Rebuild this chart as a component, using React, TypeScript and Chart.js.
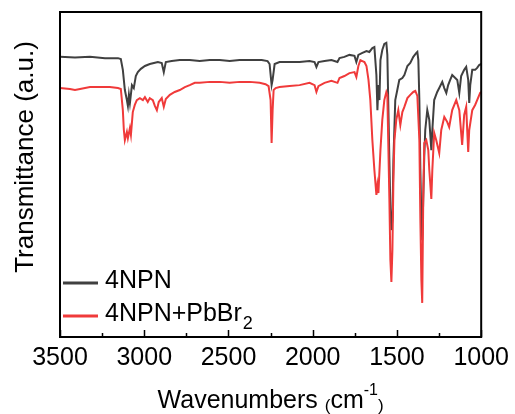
import React, { useEffect, useRef } from "react";
import { Chart, registerables } from "chart.js";

Chart.register(...registerables);

// ---- data (wavenumber cm^-1, transmittance a.u.) ----
const SERIES_NAMES = ["4NPN", "4NPN+PbBr"];
const SERIES_SUBSCRIPTS = ["", "2"];
const SERIES_COLORS = ["#404040", "#f03a3a"];

const NPN: [number, number][] = [
  [3500, 86.2], [3411, 86.0], [3322, 86.2], [3233, 85.8], [3156, 85.8], [3139, 85.5], [3127, 82.2],
  [3115, 76.0], [3103, 72.9], [3097, 71.1], [3091, 74.5], [3085, 72.0], [3073, 77.5], [3062, 76.6],
  [3050, 80.3], [3038, 81.5], [3020, 82.5], [2996, 83.4], [2967, 84.0], [2919, 84.6], [2896, 84.3],
  [2884, 81.5], [2872, 84.6], [2837, 84.9], [2789, 85.2], [2730, 85.2], [2671, 84.9], [2611, 85.2],
  [2552, 85.2], [2493, 84.9], [2434, 85.2], [2374, 85.2], [2303, 85.2], [2268, 84.9], [2256, 84.0],
  [2244, 77.5], [2238, 79.1], [2226, 84.0], [2197, 84.6], [2137, 84.6], [2078, 84.6], [2019, 84.9],
  [1989, 84.6], [1978, 83.1], [1966, 84.6], [1930, 84.9], [1889, 85.2], [1853, 84.6], [1841, 85.8],
  [1812, 86.2], [1782, 86.8], [1752, 86.5], [1741, 84.6], [1729, 86.8], [1705, 87.4], [1681, 88.0],
  [1664, 87.7], [1646, 88.9], [1634, 89.2], [1622, 80.6], [1616, 69.8], [1610, 77.5], [1604, 72.9],
  [1598, 85.2], [1587, 88.3], [1575, 90.2], [1563, 90.5], [1557, 86.8], [1545, 54.5], [1539, 39.4],
  [1533, 32.9], [1527, 36.0], [1521, 54.5], [1510, 72.9], [1498, 76.0], [1486, 79.1], [1468, 79.7],
  [1456, 80.6], [1438, 83.4], [1421, 84.3], [1403, 86.2], [1385, 87.4], [1379, 87.7], [1373, 85.2],
  [1367, 72.9], [1361, 51.4], [1355, 36.0], [1350, 29.8], [1344, 42.5], [1338, 55.4], [1332, 63.7],
  [1320, 69.8], [1308, 66.8], [1296, 57.5], [1290, 63.7], [1279, 72.9], [1261, 75.4], [1249, 76.6],
  [1231, 78.5], [1219, 76.6], [1207, 75.1], [1196, 77.5], [1184, 79.1], [1172, 80.6], [1154, 79.7],
  [1142, 79.1], [1130, 75.1], [1119, 80.3], [1101, 82.2], [1089, 83.1], [1077, 79.1], [1071, 72.0],
  [1065, 77.5], [1053, 82.2], [1036, 82.2], [1024, 82.8], [1012, 83.7], [1000, 84.0],
];

const NPN_PBBR2: [number, number][] = [
  [3500, 76.6], [3441, 76.3], [3411, 76.0], [3381, 76.3], [3322, 76.9], [3263, 76.9], [3204, 76.9],
  [3156, 76.6], [3139, 76.3], [3127, 69.8], [3121, 63.7], [3115, 60.6], [3103, 63.1], [3097, 61.2],
  [3085, 64.3], [3079, 62.2], [3068, 69.2], [3056, 71.4], [3044, 72.9], [3026, 73.5], [3008, 72.9],
  [2996, 73.8], [2979, 72.3], [2967, 73.5], [2949, 72.9], [2937, 71.1], [2925, 69.8], [2914, 72.3],
  [2896, 73.5], [2884, 70.8], [2872, 73.2], [2848, 74.5], [2819, 75.4], [2789, 76.0], [2759, 76.9],
  [2730, 77.5], [2700, 78.2], [2671, 78.2], [2611, 78.5], [2552, 78.5], [2493, 78.2], [2434, 78.5],
  [2374, 78.5], [2315, 78.2], [2280, 77.8], [2262, 77.2], [2250, 72.9], [2244, 59.7], [2238, 69.8],
  [2232, 76.0], [2220, 76.6], [2197, 76.9], [2137, 77.2], [2078, 77.5], [2019, 78.2], [1989, 77.5],
  [1978, 75.4], [1966, 77.2], [1930, 78.2], [1889, 78.8], [1853, 78.2], [1841, 79.7], [1812, 80.3],
  [1782, 81.2], [1752, 81.5], [1741, 80.0], [1729, 83.4], [1717, 85.2], [1705, 84.9], [1693, 84.6],
  [1681, 83.4], [1669, 79.1], [1658, 72.9], [1646, 60.6], [1634, 51.4], [1622, 43.7], [1616, 46.8],
  [1610, 44.3], [1598, 57.5], [1587, 66.8], [1575, 72.9], [1563, 75.4], [1557, 74.5], [1545, 42.5],
  [1539, 23.7], [1533, 16.9], [1527, 26.8], [1521, 48.3], [1515, 60.6], [1504, 66.8], [1492, 69.8],
  [1480, 65.2], [1468, 69.2], [1456, 70.8], [1438, 73.5], [1421, 74.5], [1403, 75.4], [1391, 75.7],
  [1379, 74.2], [1367, 60.6], [1361, 36.0], [1355, 17.5], [1350, 10.5], [1344, 42.5], [1338, 59.7],
  [1326, 60.6], [1314, 57.5], [1308, 51.4], [1296, 42.5], [1290, 51.4], [1279, 62.8], [1267, 60.6],
  [1249, 56.6], [1237, 63.7], [1219, 67.7], [1202, 66.2], [1190, 64.6], [1172, 69.8], [1148, 72.9],
  [1130, 69.8], [1113, 59.1], [1101, 68.3], [1089, 70.8], [1083, 63.7], [1077, 56.9], [1071, 63.7],
  [1053, 69.8], [1036, 71.4], [1024, 72.9], [1006, 75.1], [1000, 75.4],
];

const X_MIN = 1000;
const X_MAX = 3500;
const MAJOR_TICKS = [3500, 3000, 2500, 2000, 1500, 1000];
const MINOR_TICKS = [3250, 2750, 2250, 1750, 1250];
const Y_TITLE = "Transmittance (a.u.)";

const FONT = '"Liberation Sans", Arial, sans-serif';

const decorPlugin = {
  id: "decor",
  afterDraw(chart: any) {
    const { ctx, chartArea } = chart;
    const { left, right, top, bottom } = chartArea;
    const xs = chart.scales.x;
    ctx.save();
    // frame
    ctx.strokeStyle = "#000";
    ctx.lineWidth = 2;
    ctx.strokeRect(left, top, right - left, bottom - top);
    // inward ticks
    ctx.lineWidth = 1.5;
    ctx.beginPath();
    MAJOR_TICKS.forEach((v) => {
      const x = Math.round(xs.getPixelForValue(v)) + 0.5;
      ctx.moveTo(x, bottom);
      ctx.lineTo(x, bottom - 7);
    });
    MINOR_TICKS.forEach((v) => {
      const x = Math.round(xs.getPixelForValue(v)) + 0.5;
      ctx.moveTo(x, bottom);
      ctx.lineTo(x, bottom - 4);
    });
    ctx.stroke();

    ctx.fillStyle = "#000";
    // y title
    ctx.save();
    ctx.translate(33, 157);
    ctx.rotate(-Math.PI / 2);
    ctx.font = `26px ${FONT}`;
    ctx.textAlign = "center";
    ctx.textBaseline = "alphabetic";
    ctx.fillText(Y_TITLE, 0, 0);
    ctx.restore();

    // x title with superscript
    const segs: [string, number, number][] = [
      ["Wavenumbers ", 25, 0],
      ["(", 17, 3],
      ["cm", 25, 0],
      ["-1", 16, -13],
      [")", 17, 3],
    ];
    ctx.textAlign = "left";
    ctx.textBaseline = "alphabetic";
    let total = 0;
    segs.forEach(([t, s]) => {
      ctx.font = `${s}px ${FONT}`;
      total += ctx.measureText(t).width;
    });
    let cx = (left + right) / 2 - total / 2;
    const base = 408;
    segs.forEach(([t, s, dy]) => {
      ctx.font = `${s}px ${FONT}`;
      ctx.fillText(t, cx, base + dy);
      cx += ctx.measureText(t).width;
    });

    // legend
    const rows = [283, 316];
    chart.data.datasets.forEach((ds: any, i: number) => {
      const idx = ds.legendIndex;
      const y = rows[idx];
      ctx.strokeStyle = ds.borderColor;
      ctx.lineWidth = 3;
      ctx.beginPath();
      ctx.moveTo(63, y);
      ctx.lineTo(98, y);
      ctx.stroke();
      ctx.fillStyle = "#000";
      ctx.font = `25px ${FONT}`;
      ctx.fillText(SERIES_NAMES[idx], 105, y + 5);
      const w = ctx.measureText(SERIES_NAMES[idx]).width;
      if (SERIES_SUBSCRIPTS[idx]) {
        ctx.font = `18px ${FONT}`;
        ctx.fillText(SERIES_SUBSCRIPTS[idx], 105 + w + 1, y + 13);
      }
    });
    ctx.restore();
  },
};

export default function App() {
  const ref = useRef<HTMLCanvasElement | null>(null);
  useEffect(() => {
    if (!ref.current) return;
    const chart = new Chart(ref.current, {
      type: "line",
      data: {
        datasets: [
          {
            label: SERIES_NAMES[1] + SERIES_SUBSCRIPTS[1],
            data: NPN_PBBR2.map(([x, y]) => ({ x, y })),
            borderColor: SERIES_COLORS[1],
            borderWidth: 2,
            pointRadius: 0,
            tension: 0,
            order: 0,
            legendIndex: 1,
          } as any,
          {
            label: SERIES_NAMES[0],
            data: NPN.map(([x, y]) => ({ x, y })),
            borderColor: SERIES_COLORS[0],
            borderWidth: 2,
            pointRadius: 0,
            tension: 0,
            order: 1,
            legendIndex: 0,
          } as any,
        ],
      },
      options: {
        animation: false,
        responsive: false,
        layout: { padding: { top: 12, right: 33, left: 0, bottom: 0 } },
        plugins: { legend: { display: false }, tooltip: { enabled: false } },
        scales: {
          x: {
            type: "linear",
            reverse: true,
            min: X_MIN,
            max: X_MAX,
            grid: { display: false, drawTicks: false },
            border: { display: false },
            afterBuildTicks: (s: any) => {
              s.ticks = MAJOR_TICKS.map((v) => ({ value: v }));
            },
            afterFit: (s: any) => {
              s.height = 77;
            },
            ticks: {
              autoSkip: false,
              maxRotation: 0,
              padding: 6,
              color: "#000",
              font: { size: 25, family: FONT },
              callback: (v: any) => String(v),
            },
          },
          y: {
            min: 0,
            max: 100,
            grid: { display: false, drawTicks: false },
            border: { display: false },
            ticks: { display: false },
            afterFit: (s: any) => {
              s.width = 60;
            },
          },
        },
      },
      plugins: [decorPlugin],
    });
    return () => chart.destroy();
  }, []);
  return (
    <div style={{ position: "fixed", left: 0, top: 0, width: 515, height: 414, background: "#fff" }}>
      <canvas ref={ref} width={515} height={414} style={{ width: 515, height: 414 }} />
    </div>
  );
}
